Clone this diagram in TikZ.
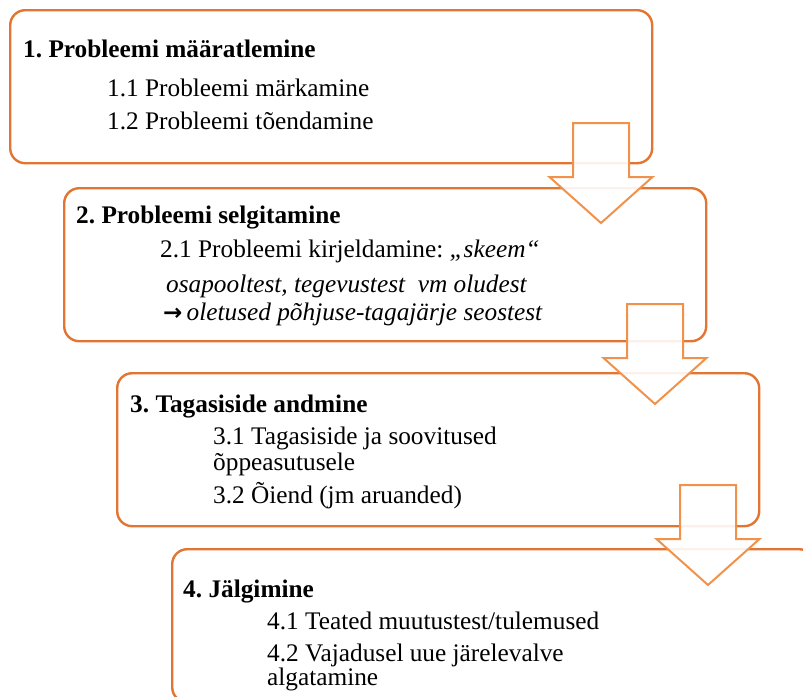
\documentclass[tikz,border=0pt]{standalone}
\usepackage{fontspec}
\setmainfont{Liberation Serif}
\newfontfamily\arrowfont{DejaVu Sans}
\frenchspacing
\definecolor{boxorange}{RGB}{226,117,50}
\definecolor{arroworange}{RGB}{241,146,76}
\tikzset{
  stepbox/.style={draw=boxorange, line width=2.4pt, fill=white, rounded corners=15pt,
    minimum width=642pt, minimum height=153pt, anchor=north west, inner sep=0pt},
  txt/.style={anchor=base west, inner sep=0pt, font=\fontsize{25.3}{28}\selectfont},
  head/.style={txt, font=\fontsize{25.3}{28}\selectfont\bfseries},
  blockarrow/.style={draw=arroworange, line width=2pt, fill=white, fill opacity=0.9, line join=miter},
  downarrow/.pic={\path[blockarrow] (-28,0) -- (28,0) -- (28,54) -- (51.5,54) -- (0,100)
      -- (-51.5,54) -- (-28,54) -- cycle;}
}
\begin{document}
\begin{tikzpicture}[x=1pt,y=-1pt]
\useasboundingbox (0,0) rectangle (803,696);
\clip (0,0) rectangle (803,696);
% boxes
\node[stepbox] (b1) at (9,9) {};
\node[stepbox] (b2) at (63,187) {};
\node[stepbox] (b3) at (116,372) {};
\node[stepbox] (b4) at (171,548) {};
% box 1 text
\node[head] (h1) at (23,57) {1. Probleemi määratlemine};
\node[txt] (t11) at (107,96) {1.1 Probleemi märkamine};
\node[txt] (t12) at (107,129) {1.2 Probleemi tõendamine};
% box 2 text
\node[head] (h2) at (76,223) {2. Probleemi selgitamine};
\node[txt] (t21) at (160,257) {2.1 Probleemi kirjeldamine: \textit{„skeem“}};
\node[txt] (t22) at (166,292) {\itshape osapooltest, tegevustest\enspace vm oludest};
\node[txt] (t23) at (163,320) {{\arrowfont\bfseries\fontsize{23}{24}\selectfont →}\,\itshape oletused põhjuse-tagajärje seostest};
% box 3 text
\node[head] (h3) at (130,412) {3. Tagasiside andmine};
\node[txt] (t31) at (213,444) {3.1 Tagasiside ja soovitused};
\node[txt] (t31b) at (213,470) {õppeasutusele};
\node[txt] (t32) at (213,503) {3.2 Õiend (jm aruanded)};
% box 4 text
\node[head] (h4) at (183,597) {4. Jälgimine};
\node[txt] (t41) at (267,629) {4.1 Teated muutustest/tulemused};
\node[txt] (t42) at (267,661) {4.2 Vajadusel uue järelevalve};
\node[txt] (t42b) at (267,685) {algatamine};
% arrows
\pic (a1) at (601,123) {downarrow};
\pic (a2) at (655,304) {downarrow};
\pic (a3) at (708,485) {downarrow};
\end{tikzpicture}
\end{document}
